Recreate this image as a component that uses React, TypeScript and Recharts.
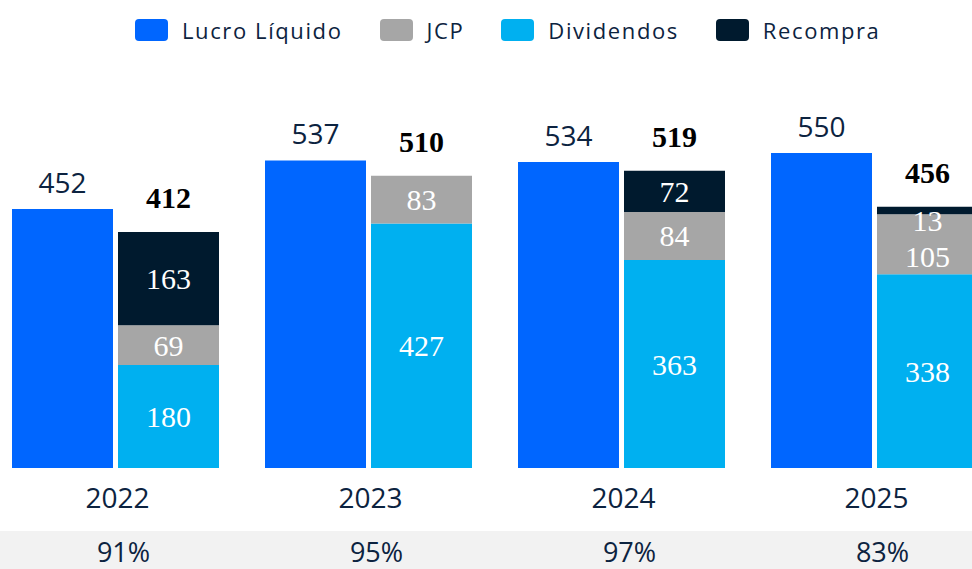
import React from 'react';
import { BarChart, Bar, XAxis, YAxis, LabelList } from 'recharts';

const categories = ['2022', '2023', '2024', '2025'];
const lucro = [452, 537, 534, 550];
const dividendos = [180, 427, 363, 338];
const jcp = [69, 83, 84, 105];
const recompra = [163, 0, 72, 13];
const totals = [412, 510, 519, 456];
const payout = ['91%', '95%', '97%', '83%'];

const seriesNames = {
  lucro: 'Lucro Líquido',
  jcp: 'JCP',
  dividendos: 'Dividendos',
  recompra: 'Recompra',
};

const colors = {
  lucro: '#0066ff',
  jcp: '#a6a6a6',
  dividendos: '#00b0f0',
  recompra: '#001a2e',
};

const data = categories.map((c, i) => ({
  year: c,
  lucro: lucro[i],
  dividendos: dividendos[i],
  jcp: jcp[i],
  recompra: recompra[i],
}));

const textColor = '#0c2340';
const sans = '"Open Sans", "Noto Sans", sans-serif';
const serif = '"Liberation Serif", "DejaVu Serif", serif';

const LucroLabel = (props: any) => {
  const { x, y, width, value } = props;
  return (
    <text x={x + width / 2} y={y - 16} textAnchor="middle" fontFamily={sans} fontSize={28} fill={textColor}>
      {value}
    </text>
  );
};

const InnerLabel = (shift: (index: number, height: number) => number) => (props: any) => {
  const { x, y, width, height, value, index } = props;
  if (!value) return null;
  return (
    <text
      x={x + width / 2}
      y={y + height / 2 + shift(index, height)}
      textAnchor="middle"
      dominantBaseline="central"
      fontFamily={serif}
      fontSize={30}
      fill="#ffffff"
    >
      {value}
    </text>
  );
};

// JCP segment label + stack total drawn above the whole stack
const JcpLabel = (props: any) => {
  const { x, y, width, height, value, index } = props;
  const ppu = height / value;
  const stackTop = y - recompra[index] * ppu;
  const shift = recompra[index] > 0 && recompra[index] < 30 ? 12 : 0;
  return (
    <g>
      <text
        x={x + width / 2}
        y={y + height / 2 + shift}
        textAnchor="middle"
        dominantBaseline="central"
        fontFamily={serif}
        fontSize={30}
        fill="#ffffff"
      >
        {value}
      </text>
      <text
        x={x + width / 2}
        y={stackTop - 24}
        textAnchor="middle"
        fontFamily={serif}
        fontWeight="bold"
        fontSize={30}
        fill="#000000"
      >
        {totals[index]}
      </text>
    </g>
  );
};

const Tick = (props: any) => {
  const { x, y, payload, index } = props;
  return (
    <g>
      <rect x={x - 130} y={y + 63} width={260} height={40} fill="#f2f2f2" />
      <text x={x + 2} y={y + 40} textAnchor="middle" fontFamily={sans} fontSize={28} fill={textColor}>
        {payload.value}
      </text>
      <text x={x + 8} y={y + 94} textAnchor="middle" fontFamily={sans} fontSize={27} fill={textColor}>
        {payout[index]}
      </text>
    </g>
  );
};

const legendOrder: (keyof typeof seriesNames)[] = ['lucro', 'jcp', 'dividendos', 'recompra'];

export default function App() {
  return (
    <div
      style={{
        position: 'fixed',
        left: 0,
        top: 0,
        width: 972,
        height: 569,
        overflow: 'hidden',
        background: '#ffffff',
      }}
    >
      <div
        style={{
          position: 'absolute',
          left: 135,
          top: 19,
          display: 'flex',
          alignItems: 'center',
          gap: 37,
          fontFamily: sans,
          fontSize: 22,
          letterSpacing: 1.6,
          color: textColor,
          whiteSpace: 'nowrap',
          zIndex: 2,
        }}
      >
        {legendOrder.map((k) => (
          <div key={k} style={{ display: 'flex', alignItems: 'center' }}>
            <span
              style={{
                display: 'inline-block',
                width: 33,
                height: 22,
                borderRadius: 4,
                background: colors[k],
                marginRight: 14,
              }}
            />
            <span style={{ lineHeight: '22px' }}>{seriesNames[k]}</span>
          </div>
        ))}
      </div>
      <div style={{ position: 'absolute', left: -11, top: 0 }}>
        <BarChart
          width={1012}
          height={569}
          data={data}
          margin={{ top: 67, right: 0, bottom: 0, left: 0 }}
          barGap={5}
          barSize={101}
        >
          <XAxis
            dataKey="year"
            height={101}
            axisLine={false}
            tickLine={false}
            tickSize={0}
            tickMargin={0}
            interval={0}
            tick={<Tick />}
          />
          <YAxis hide domain={[0, 700]} />
          <Bar dataKey="lucro" stackId="l" fill={colors.lucro} isAnimationActive={false}>
            <LabelList dataKey="lucro" content={<LucroLabel />} />
          </Bar>
          <Bar dataKey="dividendos" stackId="a" fill={colors.dividendos} isAnimationActive={false}>
            <LabelList dataKey="dividendos" content={InnerLabel(() => 0)} />
          </Bar>
          <Bar dataKey="jcp" stackId="a" fill={colors.jcp} isAnimationActive={false}>
            <LabelList dataKey="jcp" content={<JcpLabel />} />
          </Bar>
          <Bar dataKey="recompra" stackId="a" fill={colors.recompra} isAnimationActive={false}>
            <LabelList
              dataKey="recompra"
              content={InnerLabel((_i, h) => (h < 20 ? h / 2 + 6 : 0))}
            />
          </Bar>
        </BarChart>
      </div>
    </div>
  );
}
